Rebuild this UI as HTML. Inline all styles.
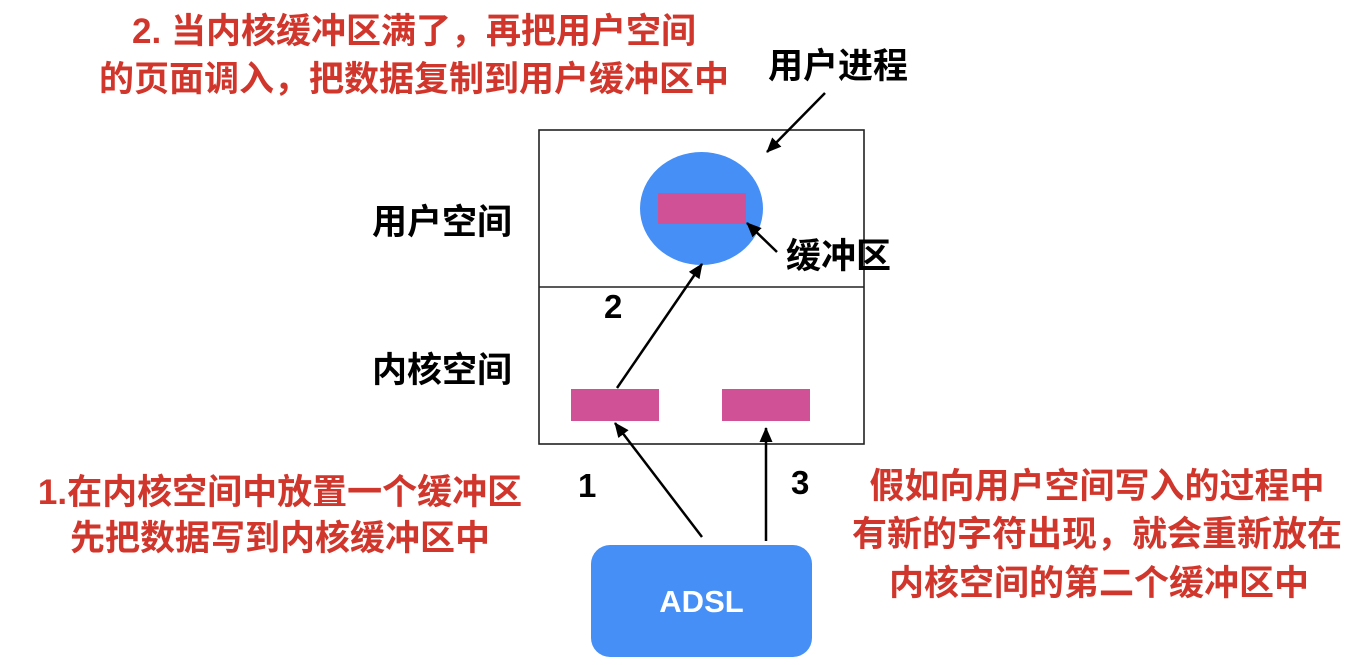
<!DOCTYPE html>
<html>
<head>
<meta charset="utf-8">
<style>
  html,body{margin:0;padding:0;background:#fff;}
  svg{display:block;}
  .cjk{font-family:"Liberation Sans","Noto Sans CJK SC",sans-serif;font-weight:bold;font-size:35px;}
  .red{fill:#d0362b;}
  .blk{fill:#000;}
  .num{font-family:"Liberation Sans",sans-serif;font-weight:bold;font-size:33px;fill:#000;}
</style>
</head>
<body>
<svg width="1370" height="665" viewBox="0 0 1370 665" xmlns="http://www.w3.org/2000/svg">
  <defs>
    <marker id="ah" markerWidth="15" markerHeight="13" refX="14" refY="6.5" orient="auto" markerUnits="userSpaceOnUse">
      <path d="M0,0 L15,6.5 L0,13 Z" fill="#000"/>
    </marker>
  </defs>

  <!-- main box -->
  <rect x="539" y="130" width="325" height="314" fill="none" stroke="#222" stroke-width="1.6"/>
  <line x1="539" y1="287" x2="864" y2="287" stroke="#222" stroke-width="1.6"/>

  <!-- user process circle -->
  <ellipse cx="701.5" cy="208.5" rx="61.5" ry="56.5" fill="#468ff6"/>
  <rect x="658" y="193" width="88" height="31" fill="#d05195"/>

  <!-- kernel buffers -->
  <rect x="571" y="389" width="88" height="32" fill="#d05195"/>
  <rect x="722" y="389" width="88" height="32" fill="#d05195"/>

  <!-- ADSL -->
  <rect x="591" y="545" width="221" height="112" rx="19" ry="19" fill="#468ff6"/>
  <text x="701.5" y="612" text-anchor="middle" font-family="Liberation Sans, sans-serif" font-weight="bold" font-size="31" fill="#fff">ADSL</text>

  <!-- arrows -->
  <line x1="825" y1="93" x2="767" y2="152" stroke="#000" stroke-width="2.5" marker-end="url(#ah)"/>
  <line x1="777" y1="252" x2="747" y2="223" stroke="#000" stroke-width="2.5" marker-end="url(#ah)"/>
  <line x1="617" y1="388" x2="702" y2="264" stroke="#000" stroke-width="2.5" marker-end="url(#ah)"/>
  <line x1="702" y1="537" x2="615" y2="423" stroke="#000" stroke-width="2.5" marker-end="url(#ah)"/>
  <line x1="766" y1="541" x2="766" y2="428" stroke="#000" stroke-width="2.5" marker-end="url(#ah)"/>

  <!-- numbers -->
  <text class="num" x="604" y="318">2</text>
  <text class="num" x="578" y="497">1</text>
  <text class="num" x="791" y="494">3</text>

  <!-- black labels -->
  <text class="cjk blk" x="768" y="78">用户进程</text>
  <text class="cjk blk" x="372" y="234">用户空间</text>
  <text class="cjk blk" x="372" y="382">内核空间</text>
  <text class="cjk blk" x="786" y="268">缓冲区</text>

  <!-- red annotations -->
  <text class="cjk red" x="414" y="43" text-anchor="middle">2. 当内核缓冲区满了，再把用户空间</text>
  <text class="cjk red" x="414" y="91" text-anchor="middle">的页面调入，把数据复制到用户缓冲区中</text>

  <text class="cjk red" x="280" y="504" text-anchor="middle">1.在内核空间中放置一个缓冲区</text>
  <text class="cjk red" x="280" y="550" text-anchor="middle">先把数据写到内核缓冲区中</text>

  <text class="cjk red" x="1097" y="498" text-anchor="middle">假如向用户空间写入的过程中</text>
  <text class="cjk red" x="1097" y="546" text-anchor="middle">有新的字符出现，就会重新放在</text>
  <text class="cjk red" x="1099" y="595" text-anchor="middle">内核空间的第二个缓冲区中</text>
</svg>
</body>
</html>
